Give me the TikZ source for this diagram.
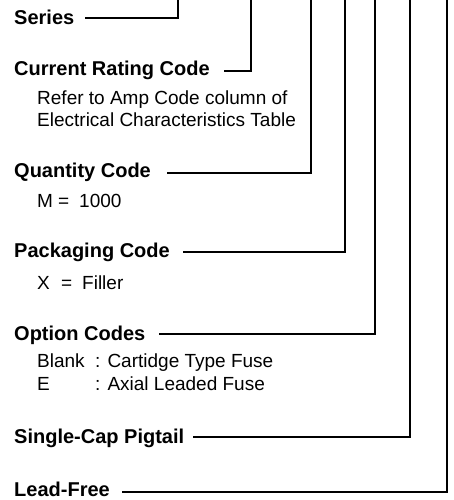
\documentclass[tikz,border=0pt]{standalone}
\usepackage{fontspec}
\setmainfont{Liberation Sans}
\begin{document}
\begin{tikzpicture}[x=1pt,y=-1pt,
  head/.style={anchor=base west,inner sep=0pt,font=\fontsize{20}{24}\selectfont\bfseries},
  desc/.style={anchor=base west,inner sep=0pt,font=\fontsize{19}{21}\selectfont},
  conn/.style={line width=1.8pt}]
\useasboundingbox (0,0) rectangle (453,500);
% headings
\node[head] (series) at (14,25) {Series};
\node[head] (current) at (14,76) {Current Rating Code};
\node[desc] (cur1) at (37,105) {Refer to Amp Code column of};
\node[desc] (cur2) at (37,126) {Electrical Characteristics Table};
\node[head] (qty) at (14,177) {Quantity Code};
\node[desc] (qtyM) at (37,207) {M};
\node[desc] (qtyEq) at (58,207) {=};
\node[desc] (qtyV) at (79,207) {1000};
\node[head] (pack) at (14,257) {Packaging Code};
\node[desc] (packX) at (37,289) {X};
\node[desc] (packEq) at (61,289) {=};
\node[desc] (packV) at (82,289) {Filler};
\node[head] (opt) at (14,340) {Option Codes};
\node[desc] (optB) at (37,367) {Blank};
\node[desc] (optBv) at (95,367) {: Cartidge Type Fuse};
\node[desc] (optE) at (37,390) {E};
\node[desc] (optEv) at (95,390) {: Axial Leaded Fuse};
\node[head] (pig) at (14,443) {Single-Cap Pigtail};
\node[head] (lead) at (14,496) {Lead-Free};
% connector ends
\coordinate (sA) at (85,18);   \coordinate (sT) at (178,-3);
\coordinate (cA) at (224,71);  \coordinate (cT) at (251,-3);
\coordinate (qA) at (167,173); \coordinate (qT) at (311,-3);
\coordinate (pA) at (183,252); \coordinate (pT) at (345,-3);
\coordinate (oA) at (159,334); \coordinate (oT) at (375,-3);
\coordinate (gA) at (193,437); \coordinate (gT) at (410,-3);
\coordinate (lA) at (122,492); \coordinate (lT) at (447,-3);
\draw[conn] (sA) -| (sT);
\draw[conn] (cA) -| (cT);
\draw[conn] (qA) -| (qT);
\draw[conn] (pA) -| (pT);
\draw[conn] (oA) -| (oT);
\draw[conn] (gA) -| (gT);
\draw[conn] (lA) -| (lT);
\end{tikzpicture}
\end{document}
